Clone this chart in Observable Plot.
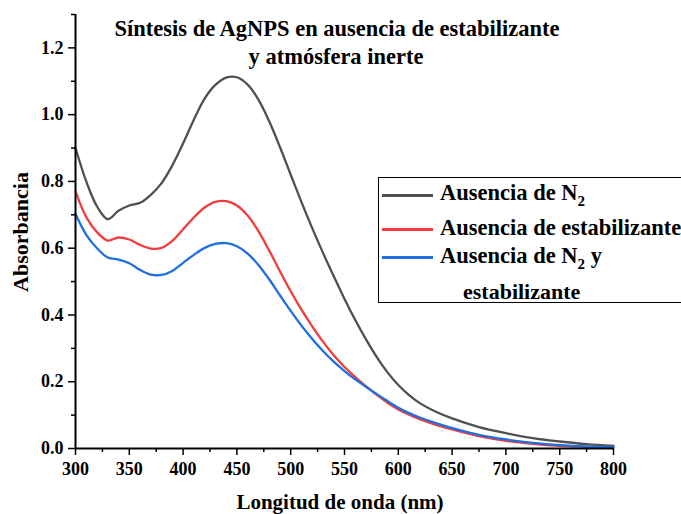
<!DOCTYPE html>
<html>
<head>
<meta charset="utf-8">
<script src="https://cdn.jsdelivr.net/npm/d3@7"></script>
<script src="https://cdn.jsdelivr.net/npm/@observablehq/plot@0.6"></script>
<style>
  html, body { margin: 0; padding: 0; background: #fff; }
  #wrap { position: relative; width: 681px; height: 514px; overflow: hidden; font-family: "Liberation Serif", "Times New Roman", serif; font-weight: bold; color: #000; }
  #wrap svg { position: absolute; left: 0; top: 0; }
  .ov { position: absolute; white-space: nowrap; line-height: 1; }
  #legend { position: absolute; left: 378px; top: 177px; width: 320px; height: 126px; border: 1.5px solid #000; background: #fff; box-sizing: border-box; }
  .lg-line { position: absolute; left: 3px; width: 51px; height: 3px; }
  .lg-text { position: absolute; left: 61px; font-size: 22px; white-space: nowrap; line-height: 1; }
  sub { font-size: 15px; vertical-align: baseline; position: relative; top: 6px; }
</style>
</head>
<body>
<div id="wrap"></div>
<script>
// Wavelength grid (nm)
const wavelength = [300,310,320,330,340,350,360,370,380,390,400,410,420,430,440,450,460,470,480,490,500,510,520,530,540,550,560,570,580,590,600,610,620,635,650,675,700,725,750,775,800];
// Series values (absorbance)
const sinN2 =      [0.900,0.800,0.725,0.687,0.712,0.728,0.736,0.760,0.795,0.848,0.914,0.985,1.048,1.089,1.111,1.112,1.090,1.045,0.980,0.903,0.820,0.738,0.660,0.586,0.516,0.448,0.385,0.327,0.274,0.228,0.190,0.160,0.136,0.110,0.090,0.064,0.046,0.031,0.021,0.013,0.008];
const sinEstab =   [0.770,0.693,0.648,0.623,0.632,0.626,0.610,0.599,0.601,0.622,0.657,0.692,0.722,0.739,0.741,0.728,0.698,0.651,0.593,0.531,0.471,0.416,0.366,0.320,0.279,0.244,0.214,0.186,0.161,0.137,0.117,0.101,0.088,0.071,0.057,0.037,0.023,0.014,0.008,0.005,0.003];
const sinN2Estab = [0.703,0.640,0.600,0.572,0.566,0.555,0.535,0.521,0.520,0.532,0.556,0.580,0.601,0.613,0.615,0.606,0.584,0.550,0.507,0.459,0.412,0.368,0.328,0.292,0.260,0.232,0.207,0.185,0.163,0.142,0.122,0.106,0.093,0.076,0.061,0.041,0.027,0.017,0.010,0.006,0.004];
const seriesNames = ["Ausencia de N2", "Ausencia de estabilizante", "Ausencia de N2 y estabilizante"];
const seriesColors = ["#505050", "#f03c3c", "#1f6fe0"];
const xTicks = [300,350,400,450,500,550,600,650,700,750,800];
const xMinor = [325,375,425,475,525,575,625,675,725,775];
const yTicks = [0,0.2,0.4,0.6,0.8,1.0,1.2];
const yMinor = [0.1,0.3,0.5,0.7,0.9,1.1,1.3];
const titleLines = ["Síntesis de AgNPS en ausencia de estabilizante", "y atmósfera inerte"];
const xLabel = "Longitud de onda (nm)";
const yLabel = "Absorbancia";

const seriesValues = [sinN2, sinEstab, sinN2Estab];
const data = [];
seriesValues.forEach((vals, i) => vals.forEach((v, j) => data.push({s: seriesNames[i], x: wavelength[j], y: v})));

const font = {fontSize: 18, fontWeight: "bold", fontFamily: "Liberation Serif, serif"};
const chart = Plot.plot({
  width: 681,
  height: 514,
  marginLeft: 75,
  marginRight: 68,
  marginTop: 14,
  marginBottom: 66,
  style: {fontFamily: "Liberation Serif, serif", fontWeight: "bold", fontSize: "18px", color: "#000", background: "transparent"},
  x: {domain: [300, 800]},
  y: {domain: [0, 1.3]},
  color: {domain: seriesNames, range: seriesColors},
  marks: [
    Plot.line(data, {x: "x", y: "y", z: "s", stroke: "s", strokeWidth: 2.3, curve: "catmull-rom"}),
    Plot.axisX({ticks: xTicks, tickSize: 7, tickPadding: 7, tickFormat: d => d, label: null, stroke: "#000", strokeWidth: 1.5, ...font}),
    Plot.axisX({ticks: xMinor, tickSize: 4, tickFormat: () => "", label: null, stroke: "#000", strokeWidth: 1.5}),
    Plot.axisY({ticks: yTicks, tickSize: 7, tickPadding: 5, tickFormat: d3.format(".1f"), label: null, stroke: "#000", strokeWidth: 1.5, ...font}),
    Plot.axisY({ticks: yMinor, tickSize: 4, tickFormat: () => "", label: null, stroke: "#000", strokeWidth: 1.5}),
    Plot.ruleY([0], {stroke: "#000", strokeWidth: 2}),
    Plot.ruleX([300], {stroke: "#000", strokeWidth: 2})
  ]
});

const wrap = document.getElementById("wrap");
wrap.appendChild(chart);

function addText(html, css) {
  const d = document.createElement("div");
  d.className = "ov";
  d.innerHTML = html;
  Object.assign(d.style, css);
  wrap.appendChild(d);
  return d;
}
// Title
addText(titleLines[0], {left: "337px", top: "18px", transform: "translateX(-50%)", fontSize: "22.5px"});
addText(titleLines[1], {left: "336px", top: "46px", transform: "translateX(-50%)", fontSize: "22.5px"});
// Axis labels
addText(xLabel, {left: "340px", top: "492px", transform: "translateX(-50%)", fontSize: "21px"});
addText(yLabel, {left: "21px", top: "232px", transform: "translate(-50%,-50%) rotate(-90deg)", fontSize: "22px"});

// Legend
const legend = document.createElement("div");
legend.id = "legend";
wrap.appendChild(legend);
const legendLabels = ["Ausencia de N<sub>2</sub>", "Ausencia de estabilizante", "Ausencia de N<sub>2</sub> y"];
const lineTops = [16, 50, 78];
const textTops = [4, 39, 67];
legendLabels.forEach((lab, i) => {
  const l = document.createElement("div");
  l.className = "lg-line";
  l.style.top = lineTops[i] + "px";
  l.style.background = seriesColors[i];
  legend.appendChild(l);
  const t = document.createElement("div");
  t.className = "lg-text";
  t.style.top = textTops[i] + "px";
  t.style.fontSize = "22.5px";
  t.innerHTML = lab;
  legend.appendChild(t);
});
const t4 = document.createElement("div");
t4.className = "lg-text";
t4.style.left = "84px";
t4.style.top = "103px";
t4.textContent = "estabilizante";
legend.appendChild(t4);
</script>
</body>
</html>
